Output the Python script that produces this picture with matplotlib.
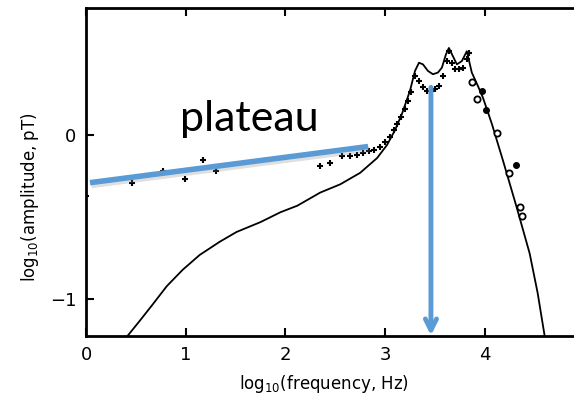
import matplotlib
matplotlib.use("Agg")

import matplotlib.pyplot as plt
import matplotlib.patheffects as pe

# Model curve (solid line)
curve_x = [0.42, 0.54, 0.67, 0.81, 0.97, 1.14, 1.34, 1.51, 1.75, 1.95, 2.12, 2.35,
           2.55, 2.75, 2.92, 3.02, 3.10, 3.17, 3.25, 3.30, 3.34, 3.38, 3.43, 3.48,
           3.53, 3.57, 3.61, 3.64, 3.68, 3.72, 3.77, 3.82, 3.87, 3.93, 3.98, 4.07,
           4.18, 4.32, 4.45, 4.53, 4.60]
curve_y = [-1.22, -1.13, -1.03, -0.92, -0.82, -0.73, -0.65, -0.59, -0.53, -0.47, -0.43, -0.35,
           -0.30, -0.23, -0.14, -0.06, 0.03, 0.13, 0.27, 0.39, 0.44, 0.43, 0.39, 0.37,
           0.38, 0.41, 0.49, 0.53, 0.48, 0.43, 0.45, 0.51, 0.38, 0.30, 0.23, 0.07,
           -0.15, -0.44, -0.72, -0.96, -1.22]

# Measured points (crosses)
cross_x = [0.00, 0.46, 0.77, 0.99, 1.17, 1.30, 2.35, 2.45, 2.57, 2.65, 2.72, 2.78, 2.84,
           2.89, 2.95, 3.00, 3.05, 3.09, 3.12, 3.16, 3.20, 3.23, 3.26, 3.30, 3.34, 3.38,
           3.42, 3.46, 3.50, 3.54, 3.58, 3.62, 3.64, 3.67, 3.70, 3.74, 3.78, 3.82, 3.84]
cross_y = [-0.37, -0.29, -0.22, -0.27, -0.15, -0.22, -0.19, -0.17, -0.13, -0.13, -0.12, -0.11, -0.10,
           -0.09, -0.07, -0.04, -0.01, 0.03, 0.07, 0.11, 0.16, 0.21, 0.26, 0.36, 0.33, 0.29,
           0.27, 0.27, 0.28, 0.30, 0.36, 0.45, 0.51, 0.44, 0.40, 0.40, 0.41, 0.46, 0.50]

# High-frequency points (open circles and filled dots)
circ_x = [3.87, 3.92, 4.12, 4.24, 4.35, 4.37]
circ_y = [0.32, 0.22, 0.01, -0.23, -0.44, -0.49]
dot_x = [3.97, 4.01, 4.31]
dot_y = [0.27, 0.15, -0.18]

# Blue annotations
plateau_x = [0.04, 2.83]
plateau_y = [-0.29, -0.07]
arrow_x = 3.46
arrow_y = [0.29, -1.22]

xticks = [0, 1, 2, 3, 4]
yticks = [0, -1]
BLUE = "#5B9BD5"

fig = plt.figure(figsize=(5.74, 4.0), dpi=100, facecolor="white")
ax = fig.add_axes([86 / 574, 64 / 400, 1 - 86 / 574, 328 / 400])
ax.set_xlim(0, 4.895)
ax.set_ylim(-1.223, 0.773)

ax.plot(curve_x, curve_y, color="black", lw=1.3)
ax.plot(cross_x, cross_y, ls="none", marker="+", ms=5, mew=1.5, color="black")
ax.plot(circ_x, circ_y, ls="none", marker="o", ms=4.5, mfc="white", mec="black", mew=1.3)
ax.plot(dot_x, dot_y, ls="none", marker="o", ms=4, color="black")

shadow = [pe.SimpleLineShadow(offset=(1, -2), shadow_color="gray", alpha=0.25), pe.Normal()]
ax.plot(plateau_x, plateau_y, color=BLUE, lw=4, solid_capstyle="butt", path_effects=shadow)
ax.annotate("", xy=(arrow_x, arrow_y[1]), xytext=(arrow_x, arrow_y[0]),
            arrowprops=dict(arrowstyle="->,head_length=0.8,head_width=0.4",
                            color=BLUE, lw=3.5, shrinkA=0, shrinkB=0))

ax.text(1.64, 0.10, "plateau", fontsize=31, family="Lato", ha="center", va="center")

for side in ["left", "bottom", "top"]:
    ax.spines[side].set_linewidth(2)
ax.spines["right"].set_visible(False)

ax.set_xticks(xticks)
ax.set_yticks(yticks)
ax.set_yticklabels(["0", "\u22121"])
ax.tick_params(direction="in", length=6, width=1.5, labelsize=13, top=True, pad=7)

fig.text(324 / 574, 1 - 384 / 400, r"log$_{10}$(frequency, Hz)", fontsize=12,
         ha="center", va="center")
fig.text(30 / 574, 1 - 197 / 400, r"log$_{10}$(amplitude, pT)", fontsize=12,
         ha="center", va="center", rotation=90)

fig.savefig("out.png", dpi=100, facecolor="white")
plt.close(fig)
